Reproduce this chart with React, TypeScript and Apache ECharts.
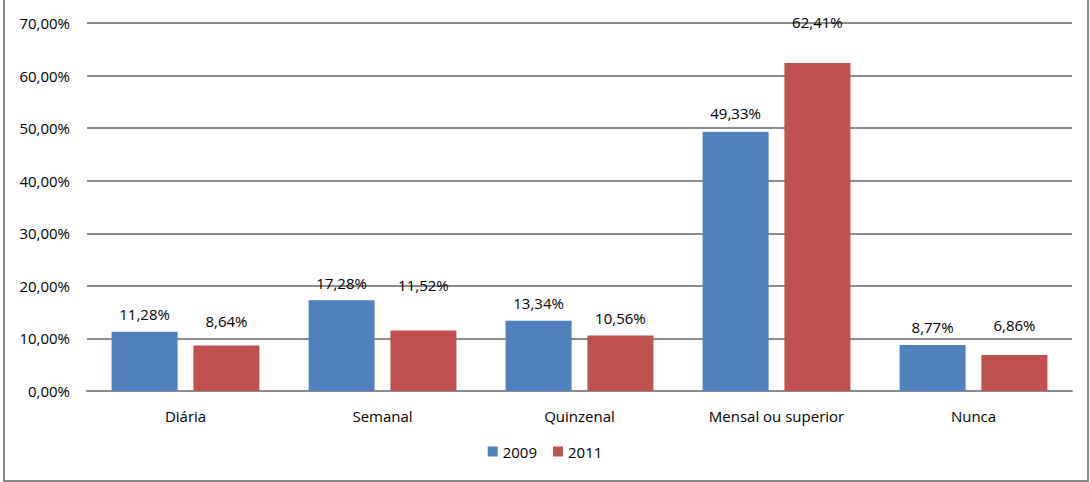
import React, { useEffect, useRef } from "react";
import * as echarts from "echarts";

const categories = ["Diária", "Semanal", "Quinzenal", "Mensal ou superior", "Nunca"];
const series2009 = [11.28, 17.28, 13.34, 49.33, 8.77];
const series2011 = [8.64, 11.52, 10.56, 62.41, 6.86];
const seriesNames = ["2009", "2011"];
const colors = ["#4F81BD", "#C0504D"];
// label distances above bars (style only), mimicking the original placement
const labelDist2009 = [10, 10, 10, 11, 10];
const labelDist2011 = [17, 38, 10, 33, 22];

const FONT = "'Open Sans', 'Noto Sans', sans-serif";
const fmt = (v: number) => v.toFixed(2).replace(".", ",") + "%";

export default function App() {
  const ref = useRef<HTMLDivElement>(null);
  useEffect(() => {
    if (!ref.current) return;
    const chart = echarts.init(ref.current, undefined, { renderer: "svg" });
    const label = {
      show: true,
      position: "top" as const,
      color: "#000",
      fontFamily: FONT,
      fontSize: 15,
      formatter: (p: any) => fmt(p.value),
    };
    const items = (vals: number[], dists: number[]) =>
      vals.map((v, i) => ({ value: v, label: { distance: dists[i] } }));
    chart.setOption({
      animation: false,
      backgroundColor: "#fff",
      grid: { left: 87, right: 18, top: 23, bottom: 91, containLabel: false },
      legend: {
        bottom: 18,
        left: "center",
        itemWidth: 10,
        itemHeight: 10,
        itemGap: 16,
        icon: "rect",
        textStyle: { fontFamily: FONT, fontSize: 15, color: "#000" },
        data: seriesNames,
      },
      xAxis: {
        type: "category",
        data: categories,
        axisLine: { show: true, lineStyle: { color: "#8c8c8c", width: 2 } },
        axisTick: { show: false },
        axisLabel: { margin: 17, color: "#000", fontFamily: FONT, fontSize: 15 },
      },
      yAxis: {
        type: "value",
        min: 0,
        max: 70,
        interval: 10,
        axisLine: { show: false },
        axisTick: { show: false },
        splitLine: { lineStyle: { color: "#8c8c8c", width: 2 } },
        axisLabel: {
          margin: 17,
          color: "#000",
          fontFamily: FONT,
          fontSize: 15,
          formatter: (v: number) => fmt(v),
        },
      },
      series: [
        {
          name: seriesNames[0],
          type: "bar",
          data: items(series2009, labelDist2009),
          barWidth: "33.5%",
          barGap: "24%",
          itemStyle: { color: colors[0] },
          label,
        },
        {
          name: seriesNames[1],
          type: "bar",
          data: items(series2011, labelDist2011),
          barWidth: "33.5%",
          barGap: "24%",
          itemStyle: { color: colors[1] },
          label,
        },
      ],
      graphic: [
        {
          type: "rect",
          shape: { x: 4, y: -2, width: 1084, height: 483 },
          style: { fill: "none", stroke: "#868686", lineWidth: 2 },
          silent: true,
        },
      ],
    });
    return () => chart.dispose();
  }, []);
  return (
    <div
      ref={ref}
      style={{ position: "absolute", left: 0, top: 0, width: 1090, height: 482 }}
    />
  );
}
